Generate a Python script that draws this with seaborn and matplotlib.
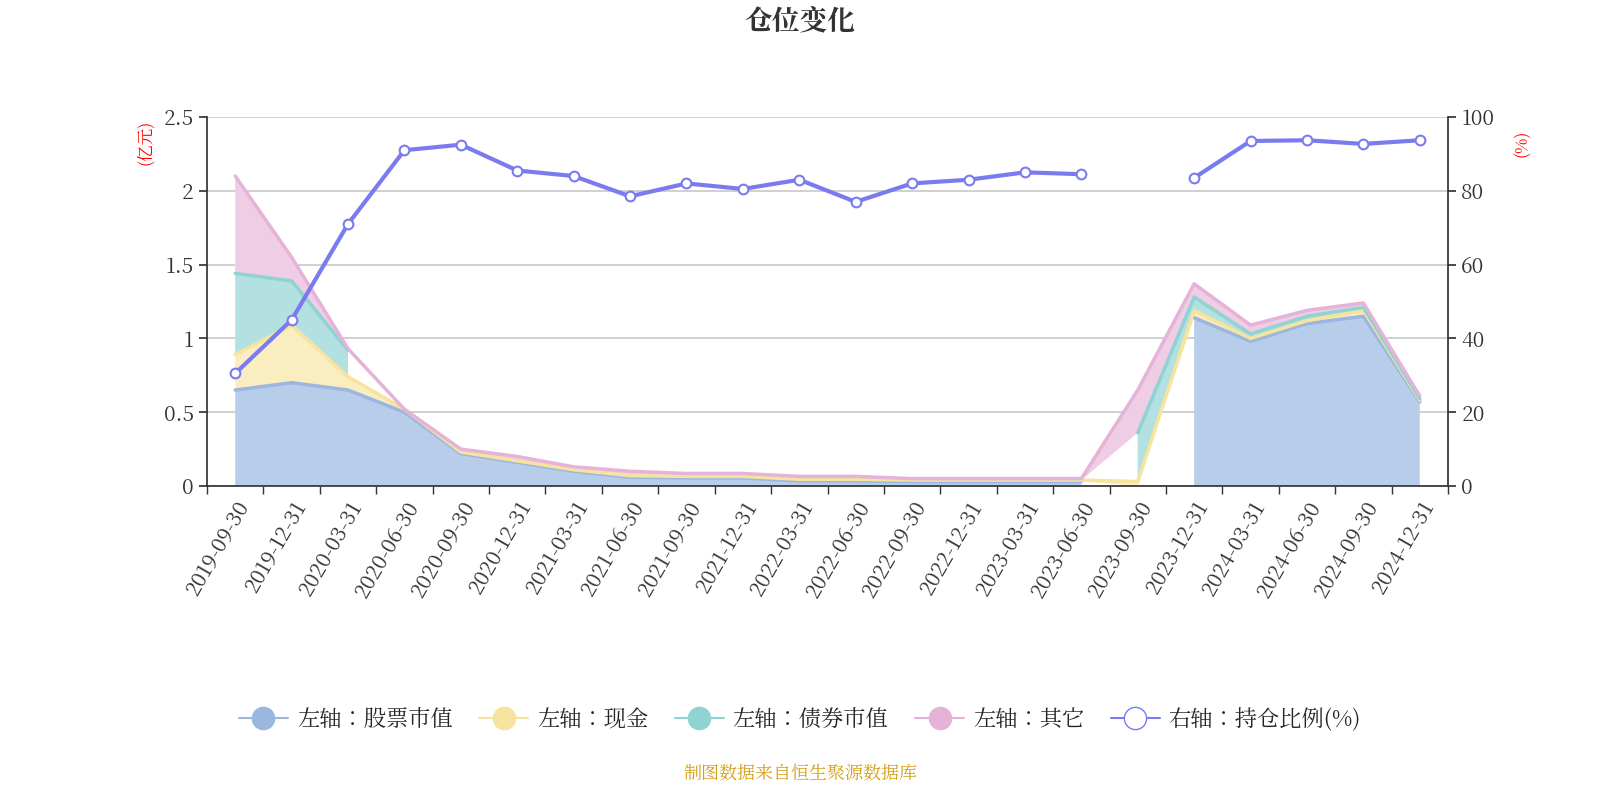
import numpy as np
import matplotlib
matplotlib.use("Agg")
import matplotlib.pyplot as plt
from matplotlib import font_manager as fm
import seaborn as sns
import pandas as pd
from matplotlib.lines import Line2D

dates = ["2019-09-30","2019-12-31","2020-03-31","2020-06-30","2020-09-30","2020-12-31",
         "2021-03-31","2021-06-30","2021-09-30","2021-12-31","2022-03-31","2022-06-30",
         "2022-09-30","2022-12-31","2023-03-31","2023-06-30","2023-09-30","2023-12-31",
         "2024-03-31","2024-06-30","2024-09-30","2024-12-31"]
stock = [0.65,0.70,0.65,0.50,0.22,0.16,0.10,0.06,0.055,0.055,0.035,0.035,0.03,0.03,0.03,0.03,
         np.nan,1.14,0.98,1.10,1.15,0.57]
cash = [0.24,0.39,0.09,0.02,0.01,0.01,0.01,0.01,0.01,0.01,0.01,0.01,0.01,0.01,0.01,0.01,
        0.03,0.05,0.02,0.02,0.04,0.01]
bond = [0.55,0.30,0.18,np.nan,np.nan,np.nan,np.nan,np.nan,np.nan,np.nan,np.nan,np.nan,
        np.nan,np.nan,np.nan,np.nan,0.33,0.09,0.03,0.03,0.02,0.01]
other = [0.66,0.16,0.01,0.0,0.02,0.03,0.02,0.03,0.02,0.02,0.02,0.02,0.01,0.01,0.01,0.01,
         0.29,0.09,0.06,0.04,0.03,0.02]
ratio = [30.5,45,71,91,92.5,85.5,84,78.5,82,80.5,83,77,82,83,85,84.5,np.nan,83.5,93.5,93.7,92.7,93.7]

cjk = None
for f in fm.fontManager.ttflist:
    if "CJK SC" in f.name:
        cjk = f.name; break
if cjk is None:
    for f in fm.fontManager.ttflist:
        if "CJK" in f.name:
            cjk = f.name; break
fam = [cjk, "DejaVu Sans"] if cjk else ["DejaVu Sans"]
sns.set_theme(style="white", rc={"font.family": "sans-serif", "font.sans-serif": fam})

fig = plt.figure(figsize=(16, 8), dpi=100)
ax = fig.add_axes([207/1600, 1-486/800, (1448-207)/1600, (486-117)/800])
x = np.arange(len(dates))

series = [(stock, "#b8cdea", "#9bb6e0", "左轴：股票市值"),
          (cash, "#faeec0", "#f5e39e", "左轴：现金"),
          (bond, "#b3e0e0", "#8fd3d3", "左轴：债券市值"),
          (other, "#eecde5", "#e6b3d8", "左轴：其它")]
base = np.zeros(len(x))
handles = []
for vals, fc, ec, lab in series:
    v = np.array(vals, dtype=float)
    mask = ~np.isnan(v)
    top = base + np.nan_to_num(v)
    ax.fill_between(x, base, top, where=mask, facecolor=fc, edgecolor="none", interpolate=False)
    ax.plot(x, np.where(mask, top, np.nan), color=ec, lw=2.5)
    base = top
    handles.append(Line2D([0], [0], color=ec, lw=1.5, marker="o", markersize=16,
                          markerfacecolor=ec, markeredgecolor=ec, label=lab))

ax.set_xlim(-0.5, len(x) - 0.5)
ax.set_ylim(0, 2.5)
ax.set_yticks([0, 0.5, 1, 1.5, 2, 2.5])
ax.set_yticklabels(["0", "0.5", "1", "1.5", "2", "2.5"], fontsize=15, color="#333")
ax.grid(axis="y", color="#c8c8c8", lw=1.2)
ax.set_xticks(x)
ax.set_xticklabels(dates, rotation=60, ha="right", rotation_mode="anchor", fontsize=15, color="#333")
ax.tick_params(axis="x", length=0, pad=8)
ax.set_xticks(np.arange(-0.5, len(x), 1), minor=True)
ax.tick_params(axis="x", which="minor", length=6, color="#333", bottom=True)
ax.tick_params(axis="y", length=6, color="#333", left=True)
for s in ["top", "right"]:
    ax.spines[s].set_visible(False)
ax.spines["bottom"].set_color("#333")
ax.spines["left"].set_color("#333")
ax.text(-0.05, 0.93, "(亿元)", transform=ax.transAxes, rotation=90, color="red", fontsize=12, ha="center", va="center")

ax2 = ax.twinx()
ax2.plot(x, ratio, color="#7b7bf0", lw=3, marker="o", markersize=7,
         markerfacecolor="white", markeredgecolor="#7b7bf0", markeredgewidth=1.5)
ax2.set_ylim(0, 100)
ax2.set_yticks([0, 20, 40, 60, 80, 100])
ax2.set_yticklabels(["0", "20", "40", "60", "80", "100"], fontsize=15, color="#333")
ax2.tick_params(axis="y", length=6, color="#333", right=True)
for s in ["top", "left", "bottom"]:
    ax2.spines[s].set_visible(False)
ax2.spines["right"].set_color("#333")
ax2.text(1.06, 0.93, "(%)", transform=ax2.transAxes, rotation=90, color="red", fontsize=12, ha="center", va="center")
ax2.set_xlim(-0.5, len(x) - 0.5)

handles.append(Line2D([0], [0], color="#7b7bf0", lw=1.5, marker="o", markersize=16,
                      markerfacecolor="white", markeredgecolor="#7b7bf0", label="右轴：持仓比例(%)"))
fig.legend(handles=handles, loc="center", bbox_to_anchor=(0.5, 1-720/800), ncol=5, frameon=False,
           fontsize=16, handlelength=2.2, columnspacing=1.2, handletextpad=0.4)
fig.text(0.5, 1-22/800, "仓位变化", ha="center", va="center", fontsize=20, fontweight="bold", color="#333")
fig.text(0.5, 1-773/800, "制图数据来自恒生聚源数据库", ha="center", va="center", fontsize=13, color="#d4a017")
fig.savefig("out.png")
